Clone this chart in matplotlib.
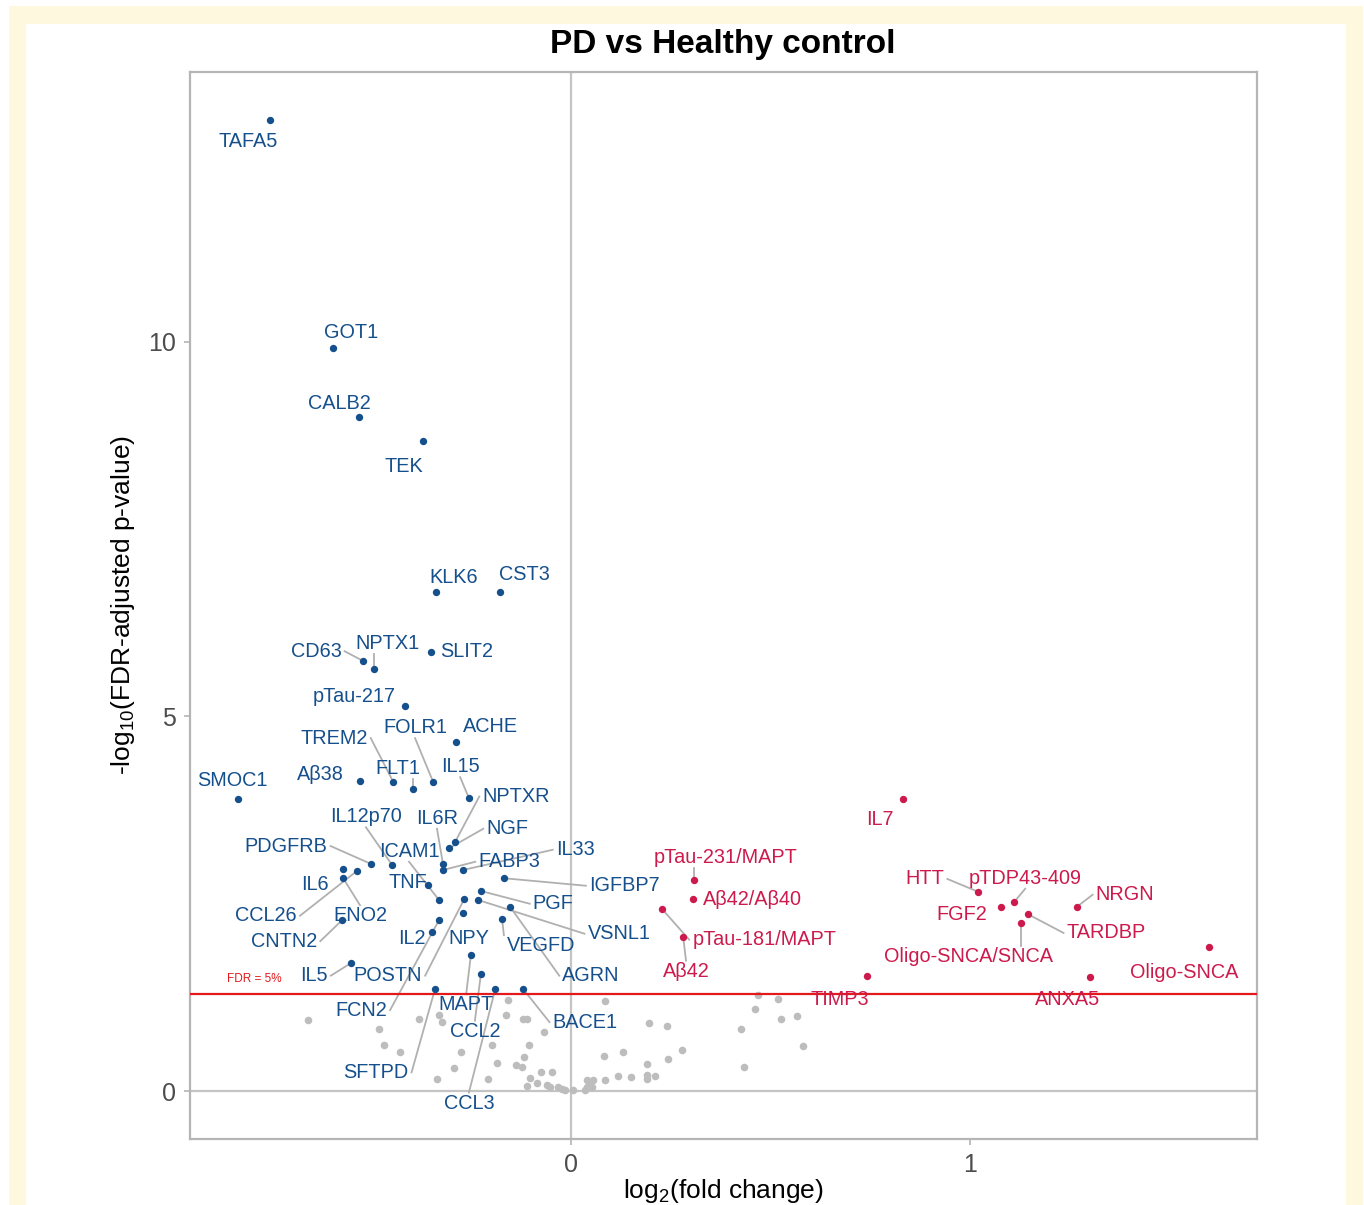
import matplotlib
matplotlib.use("Agg")
import matplotlib.pyplot as plt
from matplotlib.patches import Rectangle
from matplotlib.transforms import ScaledTranslation

plt.rcParams['font.family'] = ['Liberation Sans', 'DejaVu Sans']
plt.rcParams['mathtext.default'] = 'regular'

# significant, lower in PD (log2 fold change, -log10 FDR p)
down_genes = ["TAFA5", "GOT1", "CALB2", "TEK", "KLK6", "CST3", "CD63", "NPTX1", "SLIT2",
              "pTau-217", "ACHE", "FOLR1", "FLT1", "TREM2", "Aβ38", "SMOC1", "IL15",
              "NPTXR", "NGF", "IL6R", "FABP3", "IL33", "IGFBP7", "PDGFRB", "IL12p70",
              "IL6", "CCL26", "ENO2", "TNF", "PGF", "ICAM1", "POSTN", "VSNL1", "AGRN",
              "NPY", "FCN2", "VEGFD", "CNTN2", "IL2", "MAPT", "IL5", "CCL2", "SFTPD",
              "CCL3", "BACE1"]
down_lfc = [-0.754, -0.596, -0.531, -0.371, -0.338, -0.178, -0.521, -0.494, -0.351,
            -0.416, -0.288, -0.346, -0.396, -0.446, -0.529, -0.835, -0.256,
            -0.291, -0.306, -0.321, -0.321, -0.271, -0.168, -0.501, -0.449,
            -0.571, -0.536, -0.571, -0.358, -0.226, -0.331, -0.268, -0.233, -0.153,
            -0.271, -0.331, -0.173, -0.574, -0.348, -0.251, -0.551, -0.226, -0.341,
            -0.190, -0.120]
down_p = [12.96, 9.91, 8.99, 8.68, 6.66, 6.66, 5.74, 5.63, 5.86,
          5.14, 4.66, 4.13, 4.03, 4.13, 4.14, 3.90, 3.91,
          3.32, 3.24, 3.03, 2.95, 2.95, 2.84, 3.03, 3.02,
          2.96, 2.94, 2.84, 2.75, 2.67, 2.55, 2.56, 2.55, 2.46,
          2.38, 2.28, 2.30, 2.28, 2.12, 1.82, 1.71, 1.56, 1.36,
          1.36, 1.36]

# significant, higher in PD
up_genes = ["IL7", "pTau-231/MAPT", "Aβ42/Aβ40", "pTau-181/MAPT", "Aβ42", "TIMP3", "HTT",
            "FGF2", "pTDP43-409", "TARDBP", "Oligo-SNCA/SNCA", "NRGN", "Oligo-SNCA", "ANXA5"]
up_lfc = [0.832, 0.308, 0.306, 0.228, 0.281, 0.742, 1.020,
          1.078, 1.110, 1.145, 1.128, 1.268, 1.599, 1.301]
up_p = [3.90, 2.82, 2.56, 2.43, 2.06, 1.54, 2.66,
        2.46, 2.52, 2.36, 2.24, 2.46, 1.92, 1.52]

# not significant
ns_lfc = [-0.158, -0.659, -0.381, -0.331, -0.323, -0.163, -0.120, -0.110, -0.481, -0.068,
          -0.469, -0.429, -0.276, -0.198, -0.105, -0.185, -0.118, -0.293, -0.138, -0.123,
          -0.075, -0.048, -0.336, -0.208, -0.103, -0.110, -0.085, -0.060, -0.053, -0.033,
          -0.023, -0.015, 0.005, 0.085, 0.195, 0.241, 0.083, 0.130, 0.278, 0.243,
          0.190, 0.118, 0.150, 0.190, 0.190, 0.211, 0.085, 0.040, 0.048, 0.055,
          0.053, 0.040, 0.035, 0.426, 0.461, 0.469, 0.519, 0.526, 0.566, 0.581, 0.434]
ns_p = [1.215, 0.948, 0.961, 1.015, 0.921, 1.015, 0.961, 0.961, 0.828, 0.788,
        0.614, 0.521, 0.521, 0.614, 0.614, 0.374, 0.454, 0.307, 0.347, 0.320,
        0.254, 0.254, 0.160, 0.160, 0.174, 0.067, 0.107, 0.080, 0.053, 0.053,
        0.027, 0.013, 0.013, 1.202, 0.908, 0.868, 0.467, 0.521, 0.547, 0.427,
        0.360, 0.200, 0.187, 0.214, 0.160, 0.200, 0.147, 0.147, 0.107, 0.147,
        0.053, 0.053, 0.013, 0.828, 1.095, 1.28, 1.228, 0.961, 1.001, 0.601, 0.320]

fdr_cut = 1.301

# label placement (repelled positions)
lab_pos = {
    "TAFA5": (-0.810, 12.71), "GOT1": (-0.551, 10.16), "CALB2": (-0.581, 9.21),
    "TEK": (-0.419, 8.37), "KLK6": (-0.293, 6.90), "CST3": (-0.118, 6.93),
    "CD63": (-0.639, 5.91), "NPTX1": (-0.459, 6.01), "SLIT2": (-0.261, 5.91),
    "pTau-217": (-0.544, 5.31), "TREM2": (-0.594, 4.75), "FOLR1": (-0.391, 4.89),
    "ACHE": (-0.203, 4.90), "Aβ38": (-0.627, 4.26), "FLT1": (-0.434, 4.35),
    "IL15": (-0.278, 4.37), "SMOC1": (-0.850, 4.18), "NPTXR": (-0.138, 3.97),
    "IL12p70": (-0.514, 3.70), "IL6R": (-0.336, 3.68), "NGF": (-0.160, 3.54),
    "PDGFRB": (-0.714, 3.31), "ICAM1": (-0.406, 3.24), "IL33": (0.010, 3.26),
    "FABP3": (-0.155, 3.10), "IL6": (-0.642, 2.79), "TNF": (-0.409, 2.82),
    "IGFBP7": (0.133, 2.78), "CCL26": (-0.764, 2.38), "ENO2": (-0.529, 2.38),
    "PGF": (-0.045, 2.54), "VSNL1": (0.120, 2.14), "CNTN2": (-0.719, 2.04),
    "IL2": (-0.398, 2.07), "NPY": (-0.256, 2.08), "VEGFD": (-0.075, 1.98),
    "IL5": (-0.644, 1.58), "POSTN": (-0.459, 1.58), "AGRN": (0.050, 1.58),
    "FCN2": (-0.526, 1.12), "MAPT": (-0.263, 1.19), "BACE1": (0.035, 0.96),
    "CCL2": (-0.241, 0.84), "SFTPD": (-0.489, 0.29), "CCL3": (-0.256, -0.12),
    "IL7": (0.774, 3.67), "pTau-231/MAPT": (0.388, 3.16), "Aβ42/Aβ40": (0.454, 2.60),
    "pTau-181/MAPT": (0.484, 2.06), "Aβ42": (0.288, 1.64), "TIMP3": (0.674, 1.26),
    "HTT": (0.887, 2.87), "pTDP43-409": (1.138, 2.88), "FGF2": (0.980, 2.39),
    "NRGN": (1.388, 2.66), "TARDBP": (1.341, 2.15), "Oligo-SNCA/SNCA": (0.997, 1.83),
    "Oligo-SNCA": (1.536, 1.62), "ANXA5": (1.243, 1.26),
}
# labels drawn without a connector segment
no_segment = {"TAFA5", "GOT1", "CALB2", "TEK", "KLK6", "CST3", "SLIT2", "pTau-217", "ACHE",
              "Aβ38", "SMOC1", "IL6", "TNF", "IL2", "NPY", "IL7", "Aβ42/Aβ40", "TIMP3",
              "FGF2", "Oligo-SNCA", "ANXA5"}

blue = "#154f8c"
red = "#cc1a4c"
grey = "#bdbdbd"

W, H = 1364, 1205
fig = plt.figure(figsize=(W / 100, H / 100), dpi=100)
fig.patch.set_facecolor("white")
cream = "#fef8df"
fig.patches.append(Rectangle((9 / W, 0), 17 / W, (H - 6) / H, transform=fig.transFigure,
                             facecolor=cream, edgecolor="none", zorder=-10))
fig.patches.append(Rectangle((9 / W, (H - 24) / H), (1363 - 9) / W, 18 / H, transform=fig.transFigure,
                             facecolor=cream, edgecolor="none", zorder=-10))
fig.patches.append(Rectangle((1346 / W, 0), 17 / W, (H - 6) / H, transform=fig.transFigure,
                             facecolor=cream, edgecolor="none", zorder=-10))

ax = fig.add_axes([190 / W, (H - 1139) / H, (1257 - 190) / W, (1139 - 72) / H])
ax.set_xlim(-0.955, 1.719)
ax.set_ylim(-0.64, 13.60)

ax.axhline(0, color="#c4c4c4", lw=1.6, zorder=1)
ax.axvline(0, color="#c4c4c4", lw=1.6, zorder=1)
ax.axhline(fdr_cut, color="#e3191c", lw=1.6, zorder=4)
ax.text(-0.795, 1.50, "FDR = 5%", color="#e3191c", fontsize=8.5, ha="center", va="center")

ax.scatter(ns_lfc, ns_p, s=30, color=grey, linewidths=0, zorder=3)
ax.scatter(down_lfc, down_p, s=28, color=blue, linewidths=0, zorder=5)
ax.scatter(up_lfc, up_p, s=28, color=red, linewidths=0, zorder=5)

shift = ax.transData + ScaledTranslation(0, -3 / 100, fig.dpi_scale_trans)
texts = []
for genes, xs, ys, col in [(down_genes, down_lfc, down_p, blue), (up_genes, up_lfc, up_p, red)]:
    for g, x, y in zip(genes, xs, ys):
        lx, ly = lab_pos[g]
        t = ax.text(lx, ly, g, color=col, fontsize=14.3, ha="center", va="center",
                    zorder=6, transform=shift)
        texts.append((g, t, x, y))

for sp in ax.spines.values():
    sp.set_color("#b5b5b5")
    sp.set_linewidth(1.6)
ax.set_xticks([0, 1])
ax.set_yticks([0, 5, 10])
ax.tick_params(length=4, width=1.2, color="#b5b5b5", labelcolor="#4d4d4d", labelsize=18, pad=6)

fig.text(723 / W, 1 - 45 / H, "PD vs Healthy control", fontsize=24, fontweight="bold",
         ha="center", va="center")
fig.text(723 / W, 1 - 1191 / H, "log$_2$(fold change)", fontsize=19, ha="center", va="center")
fig.text(123 / W, 1 - 605 / H, "-log$_{10}$(FDR-adjusted p-value)", fontsize=19,
         ha="center", va="center", rotation=90)


def connection(px, py, x0, y0, x1, y1, k=1.3):
    # nearest point on the label box, nudged to an edge midpoint when that is not much longer
    left, right = px < x0, px > x1
    below, above = py < y0, py > y1
    ox = x0 if left else (x1 if right else px)
    oy = y0 if below else (y1 if above else py)
    mx, my = (x0 + x1) / 2, (y0 + y1) / 2
    d = ((px - ox) ** 2 + (py - oy) ** 2) ** 0.5
    if (below or above) and not (left or right):
        if ((px - mx) ** 2 + (py - oy) ** 2) ** 0.5 < d * k:
            ox = mx
    elif (left or right) and not (below or above):
        if ((px - ox) ** 2 + (py - my) ** 2) ** 0.5 < d * k:
            oy = my
    elif (left or right) and (below or above):
        a1 = ((px - mx) ** 2 + (py - oy) ** 2) ** 0.5
        a2 = ((px - ox) ** 2 + (py - my) ** 2) ** 0.5
        if a1 < a2 and a1 < d * k:
            ox = mx
        elif a2 < d * k:
            oy = my
    return ox, oy


fig.canvas.draw()
renderer = fig.canvas.get_renderer()
inv = ax.transData.inverted()
for g, t, x, y in texts:
    if g in no_segment:
        continue
    bb = t.get_window_extent(renderer)
    px, py = ax.transData.transform((x, y))
    ex, ey = connection(px, py, bb.x0 - 3, bb.y0 - 1, bb.x1 + 3, bb.y1 + 1)
    (dx0, dy0), (dx1, dy1) = inv.transform([(px, py), (ex, ey)])
    ax.plot([dx0, dx1], [dy0, dy1], color="#b0b0b0", lw=1.3, zorder=2)

fig.savefig("out.png", dpi=100)
